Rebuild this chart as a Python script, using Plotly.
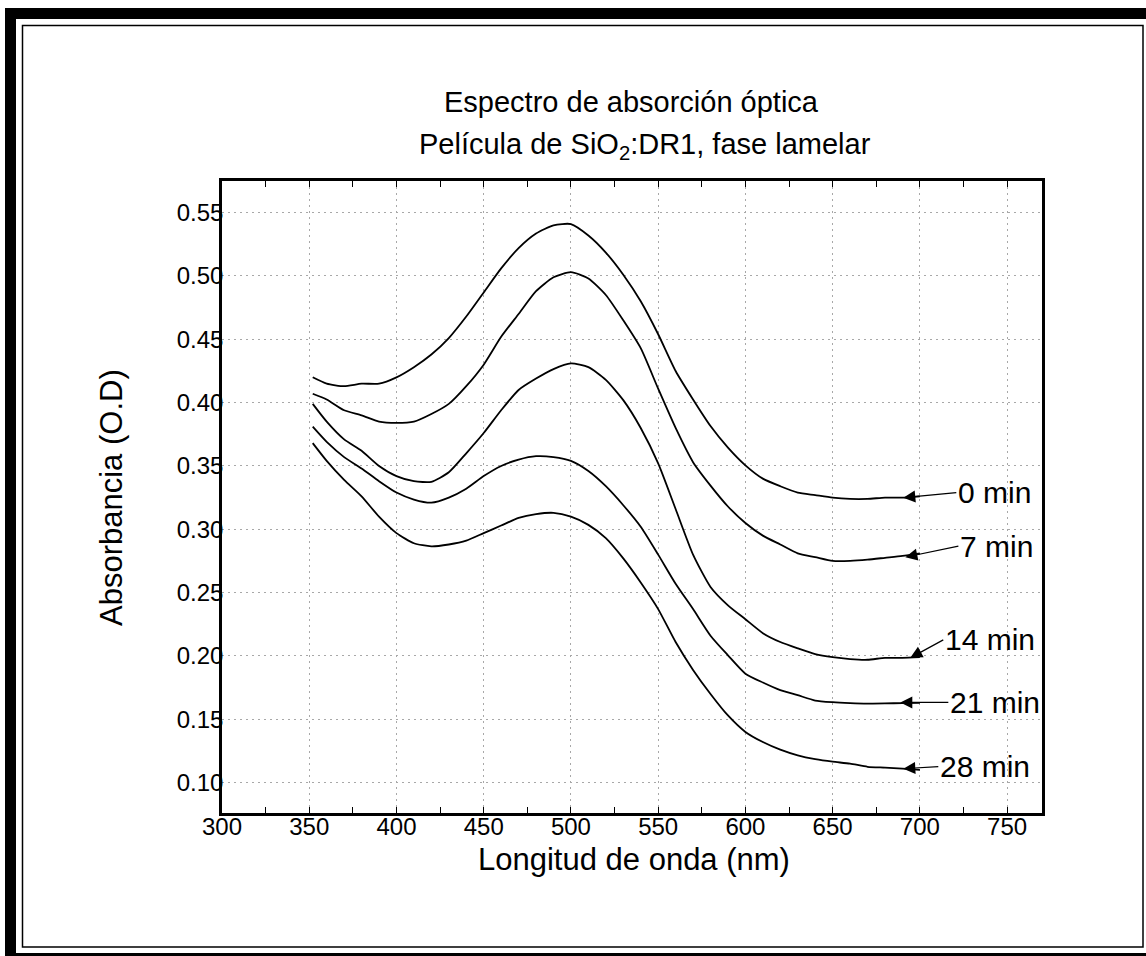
import plotly.graph_objects as go

# ---- data ----
wavelength = [352, 360, 370, 380, 390, 400, 410, 420, 430, 440, 450, 460, 470, 480, 490,
              500, 510, 520, 530, 540, 550, 560, 570, 580, 590, 600, 610, 620, 630, 640,
              650, 660, 670, 680, 690, 700]

abs_0min = [0.420, 0.415, 0.413, 0.415, 0.415, 0.420, 0.428, 0.438, 0.451, 0.468, 0.487, 0.506,
            0.522, 0.5335, 0.540, 0.541, 0.532, 0.5185, 0.501, 0.480, 0.454, 0.425, 0.4025, 0.3815,
            0.3645, 0.3505, 0.340, 0.334, 0.329, 0.327, 0.325, 0.324, 0.324, 0.325, 0.325, 0.326]
abs_7min = [0.407, 0.4025, 0.394, 0.390, 0.385, 0.384, 0.385, 0.391, 0.399, 0.413, 0.430, 0.452,
            0.470, 0.488, 0.499, 0.503, 0.498, 0.485, 0.465, 0.443, 0.411, 0.380, 0.353, 0.3345,
            0.318, 0.305, 0.295, 0.288, 0.281, 0.278, 0.275, 0.275, 0.276, 0.2775, 0.279, 0.281]
abs_14min = [0.399, 0.385, 0.371, 0.362, 0.350, 0.342, 0.338, 0.3375, 0.345, 0.360, 0.376, 0.394,
             0.410, 0.419, 0.4265, 0.431, 0.428, 0.418, 0.402, 0.380, 0.352, 0.316, 0.280, 0.2545,
             0.240, 0.229, 0.218, 0.211, 0.206, 0.2015, 0.199, 0.1975, 0.197, 0.1985, 0.1985, 0.199]
abs_21min = [0.381, 0.369, 0.357, 0.348, 0.338, 0.329, 0.3235, 0.321, 0.325, 0.332, 0.342, 0.350,
             0.355, 0.3577, 0.357, 0.354, 0.346, 0.334, 0.319, 0.302, 0.280, 0.257, 0.237, 0.216,
             0.2005, 0.186, 0.179, 0.173, 0.169, 0.1648, 0.1635, 0.1628, 0.1624, 0.1625, 0.1628, 0.163]
abs_28min = [0.368, 0.354, 0.339, 0.326, 0.310, 0.297, 0.289, 0.2865, 0.288, 0.291, 0.297, 0.303,
             0.309, 0.312, 0.313, 0.310, 0.3035, 0.293, 0.277, 0.258, 0.237, 0.211, 0.189, 0.170,
             0.153, 0.140, 0.132, 0.126, 0.1215, 0.1185, 0.1165, 0.115, 0.1125, 0.1118, 0.111, 0.110]

series = [("0 min", abs_0min), ("7 min", abs_7min), ("14 min", abs_14min),
          ("21 min", abs_21min), ("28 min", abs_28min)]

x_ticks = [300, 350, 400, 450, 500, 550, 600, 650, 700, 750]
y_ticks = [0.10, 0.15, 0.20, 0.25, 0.30, 0.35, 0.40, 0.45, 0.50, 0.55]

FONT = "Liberation Sans, Arial, Helvetica, sans-serif"

fig = go.Figure()
for name, vals in series:
    fig.add_trace(go.Scatter(x=wavelength, y=vals, mode="lines", name=name,
                             line=dict(color="black", width=1.8, shape="spline", smoothing=0.6),
                             showlegend=False))

# arrow labels: (label, tip x, tip y, ax, ay)
labels = [("0 min", 690.5, 0.325, 53, -5),
          ("7 min", 691.7, 0.278, 53, -11),
          ("14 min", 694.5, 0.1985, 33, -18),
          ("21 min", 688.8, 0.1633, 48, 0),
          ("28 min", 690.5, 0.111, 35, -2)]
annotations = []
for text, tx, ty, ax, ay in labels:
    annotations.append(dict(x=tx, y=ty, xref="x", yref="y", text=text, showarrow=True,
                            ax=ax, ay=ay, xanchor="left", yanchor="middle",
                            arrowhead=2, arrowsize=2.0, arrowwidth=1.2, arrowcolor="black",
                            font=dict(family=FONT, size=30, color="black")))

def px_x(p):
    return (p - 222) / 820.0

def px_y(p):
    return (813 - p) / 632.0

annotations.append(dict(x=0.4988, y=1.125, xref="paper", yref="paper", showarrow=False,
                        text="Espectro de absorción óptica", xanchor="center", yanchor="middle",
                        font=dict(family=FONT, size=29, color="black")))
annotations.append(dict(x=0.5159, y=1.055, xref="paper", yref="paper", showarrow=False,
                        text="Película de SiO<sub>2</sub>:DR1, fase lamelar",
                        xanchor="center", yanchor="middle",
                        font=dict(family=FONT, size=29, color="black")))
annotations.append(dict(x=px_x(634), y=px_y(859), xref="paper", yref="paper", showarrow=False,
                        text="Longitud de onda (nm)", xanchor="center", yanchor="middle",
                        font=dict(family=FONT, size=31, color="black")))
annotations.append(dict(x=px_x(111), y=px_y(497), xref="paper", yref="paper", showarrow=False,
                        text="Absorbancia (O.D)", textangle=-90, xanchor="center", yanchor="middle",
                        font=dict(family=FONT, size=31, color="black")))

shapes = [
    # thick outer frame
    dict(type="rect", xref="paper", yref="paper", x0=px_x(5), x1=px_x(1146), y0=px_y(19), y1=px_y(8),
         fillcolor="black", line=dict(width=0)),
    dict(type="rect", xref="paper", yref="paper", x0=px_x(5), x1=px_x(16), y0=px_y(956), y1=px_y(8),
         fillcolor="black", line=dict(width=0)),
    dict(type="rect", xref="paper", yref="paper", x0=px_x(5), x1=px_x(1146), y0=px_y(956), y1=px_y(953),
         fillcolor="black", line=dict(width=0)),
    # thin inner frame
    dict(type="rect", xref="paper", yref="paper", x0=px_x(22.5), x1=px_x(1143), y0=px_y(947), y1=px_y(25.5),
         line=dict(color="black", width=1.5)),
]

GRID = "#a8a8a8"
fig.update_layout(
    width=1146, height=956,
    margin=dict(l=222, r=104, t=181, b=143),
    paper_bgcolor="white", plot_bgcolor="white",
    font=dict(family=FONT, color="black"),
    annotations=annotations, shapes=shapes,
    xaxis=dict(range=[300, 770], tickvals=x_ticks, ticktext=[str(v) for v in x_ticks],
               showline=True, linecolor="black", linewidth=2.5, mirror="allticks",
               ticks="inside", ticklen=6, tickwidth=1.2, tickcolor="black",
               showgrid=True, gridcolor=GRID, griddash="1.5px,4.5px", gridwidth=1,
               zeroline=False, tickfont=dict(size=24), ticklabelstandoff=-10,
               minor=dict(dtick=25, tick0=300, ticks="inside", ticklen=6, tickwidth=1.2,
                          tickcolor="black", showgrid=False)),
    yaxis=dict(range=[0.076, 0.575], tickvals=y_ticks, ticktext=[f"{v:.2f}" for v in y_ticks],
               showline=True, linecolor="black", linewidth=2.5, mirror=True,
               ticks="", showgrid=True, gridcolor=GRID, griddash="1.5px,4.5px", gridwidth=1,
               zeroline=False, tickfont=dict(size=24), ticklabelstandoff=-9),
)

fig.write_html("out.html", config={"displayModeBar": False},
               post_script="document.body.style.margin='0';document.body.style.overflow='hidden';")
